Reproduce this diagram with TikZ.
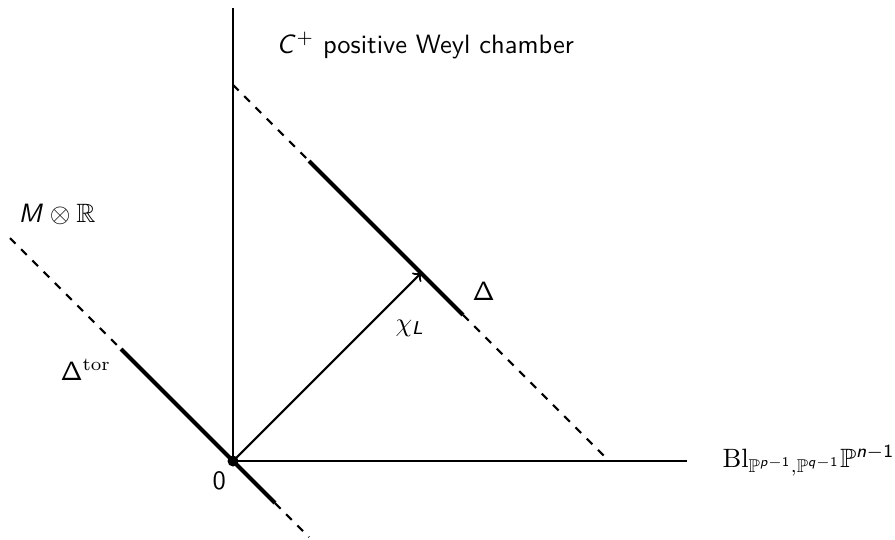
\documentclass[tikz,border=0pt]{standalone}
\usepackage{amssymb}
\DeclareMathAlphabet{\mathsfit}{OT1}{cmss}{m}{sl}
\begin{document}
\begin{tikzpicture}[x=0.37736pt,y=-0.37736pt,
  axis/.style={line width=0.8pt},
  dashline/.style={line width=0.8pt,dashed},
  thickseg/.style={line width=1.5pt},
  lab/.style={inner sep=0pt,anchor=base west,font=\sffamily}]
\useasboundingbox (0,0) rectangle (895,539);
% key points
\coordinate (O) at (233,461);
\coordinate (vtop) at (233,8);
\coordinate (hend) at (687,461);
\coordinate (t1) at (10,238);
\coordinate (t2) at (121,349);
\coordinate (t3) at (275,503);
\coordinate (t4) at (309,537);
\coordinate (d1) at (233,85);
\coordinate (d2) at (309,161);
\coordinate (d3) at (463,315);
\coordinate (d4) at (609,461);
\coordinate (foot) at (421,273);
% axes
\draw[axis] (O) -- (vtop);
\draw[axis] (O) -- (hend);
% M tensor R line
\draw[dashline] (t1) -- (t2);
\draw[thickseg] (t2) -- (O) -- (t3);
\draw[dashline] (t3) -- (t4);
% Delta line
\draw[dashline] (d1) -- (d2);
\draw[thickseg] (d2) -- (d3);
\draw[dashline] (d3) -- (d4);
% arrow chi_L
\draw[axis,->] (O) -- (foot);
\fill (O) circle (5.5);
% labels
\node[lab] (cplus) at (276,53) {$\mathsfit{C}^+$ positive Weyl chamber};
\node[lab] (mr) at (18,222) {$\mathsfit{M}\otimes\mathbb{R}$};
\node[lab] (dtor) at (60,380) {$\mathsf{\Delta}^{\mathrm{tor}}$};
\node[lab] (delta) at (472,300) {$\mathsf{\Delta}$};
\node[lab] (chi) at (395,331) {$\chi_{\mathsfit{L}}$};
\node[lab] (zero) at (212,489) {0};
\node[lab] (bl) at (722,467) {$\mathrm{Bl}_{\mathbb{P}^{\mathsfit{p}-\mathsf{1}},\mathbb{P}^{\mathsfit{q}-\mathsf{1}}}\mathbb{P}^{\mathsfit{n}-\mathsf{1}}$};
\end{tikzpicture}
\end{document}
